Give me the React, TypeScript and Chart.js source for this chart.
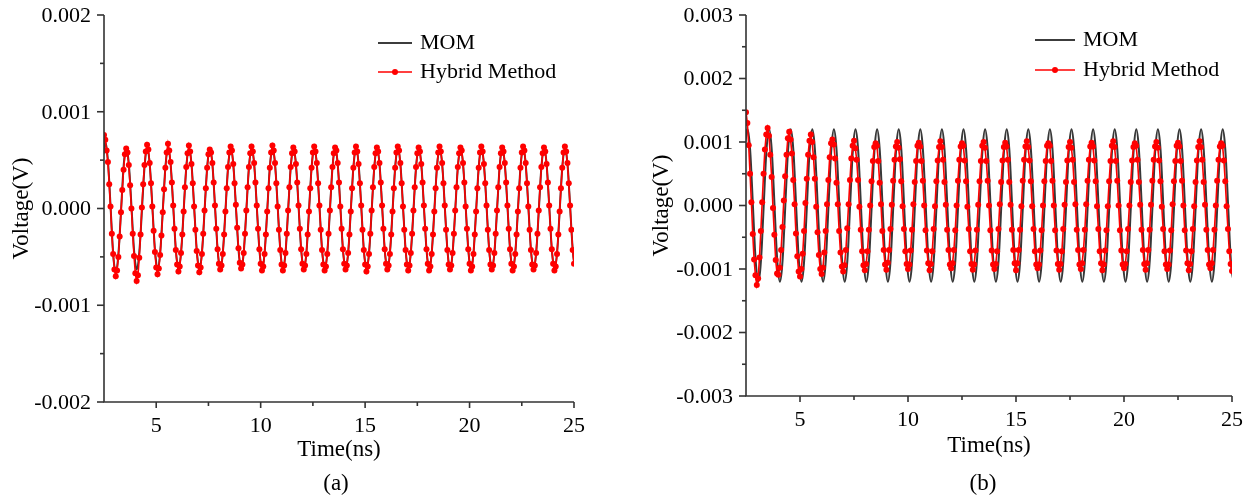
import { useEffect, useRef } from "react";
import { Chart, registerables } from "chart.js";

Chart.register(...registerables);

const FONT = "'Liberation Serif', 'Times New Roman', serif";

// Axes
const X_MIN = 2.5;
const X_MAX = 25;
const X_TICKS = [5, 10, 15, 20, 25];
const Y_TICKS_A = [-0.002, -0.001, 0, 0.001, 0.002];
const Y_TICKS_B = [-0.003, -0.002, -0.001, 0, 0.001, 0.002, 0.003];
const SERIES_NAMES = ["MOM", "Hybrid Method"];
const X_TITLE = "Time(ns)";
const Y_TITLE = "Voltage(V)";

// Sample grids (ns)
const MOM_T0 = 2.47;
const MOM_DT = 0.1;
const HYB_T0 = 2.5;
const HYB_DT = 0.0625;

// Panel (a) values, mV
const MOM_A = [
  0.56, 0.68, 0.54, 0.2, -0.21, -0.55, -0.66, -0.52, -0.2, 0.19,
  0.51, 0.62, 0.5, 0.19, -0.19, -0.51, -0.63, -0.5, -0.19, 0.19,
  0.5, 0.62, 0.5, 0.19, -0.19, -0.5, -0.62, -0.5, -0.19, 0.19,
  0.5, 0.62, 0.5, 0.19, -0.19, -0.5, -0.62, -0.5, -0.19, 0.19,
  0.5, 0.62, 0.5, 0.19, -0.19, -0.5, -0.62, -0.5, -0.19, 0.19,
  0.5, 0.62, 0.5, 0.19, -0.19, -0.5, -0.62, -0.5, -0.19, 0.19,
  0.5, 0.62, 0.5, 0.19, -0.19, -0.5, -0.62, -0.5, -0.19, 0.19,
  0.5, 0.62, 0.5, 0.19, -0.19, -0.5, -0.62, -0.5, -0.19, 0.19,
  0.5, 0.62, 0.5, 0.19, -0.19, -0.5, -0.62, -0.5, -0.19, 0.19,
  0.5, 0.62, 0.5, 0.19, -0.19, -0.5, -0.62, -0.5, -0.19, 0.19,
  0.5, 0.62, 0.5, 0.19, -0.19, -0.5, -0.62, -0.5, -0.19, 0.19,
  0.5, 0.62, 0.5, 0.19, -0.19, -0.5, -0.62, -0.5, -0.19, 0.19,
  0.5, 0.62, 0.5, 0.19, -0.19, -0.5, -0.62, -0.5, -0.19, 0.19,
  0.5, 0.62, 0.5, 0.19, -0.19, -0.5, -0.62, -0.5, -0.19, 0.19,
  0.5, 0.62, 0.5, 0.19, -0.19, -0.5, -0.62, -0.5, -0.19, 0.19,
  0.5, 0.62, 0.5, 0.19, -0.19, -0.5, -0.62, -0.5, -0.19, 0.19,
  0.5, 0.62, 0.5, 0.19, -0.19, -0.5, -0.62, -0.5, -0.19, 0.19,
  0.5, 0.62, 0.5, 0.19, -0.19, -0.5, -0.62, -0.5, -0.19, 0.19,
  0.5, 0.62, 0.5, 0.19, -0.19, -0.5, -0.62, -0.5, -0.19, 0.19,
  0.5, 0.62, 0.5, 0.19, -0.19, -0.5, -0.62, -0.5, -0.19, 0.19,
  0.5, 0.62, 0.5, 0.19, -0.19, -0.5, -0.62, -0.5, -0.19, 0.19,
  0.5, 0.62, 0.5, 0.19, -0.19, -0.5, -0.62, -0.5, -0.19, 0.19,
  0.5, 0.62, 0.5, 0.19, -0.19, -0.5, -0.62,
];

const HYB_A = [
  0.76, 0.71, 0.6, 0.48, 0.25, 0.02, -0.26, -0.47, -0.63, -0.7, -0.64, -0.5, -0.29, -0.04, 0.19, 0.4,
  0.56, 0.62, 0.58, 0.45, 0.24, 0.0, -0.26, -0.49, -0.67, -0.75, -0.69, -0.51, -0.27, 0.01, 0.25, 0.45,
  0.59, 0.66, 0.61, 0.47, 0.26, 0.02, -0.23, -0.45, -0.61, -0.68, -0.62, -0.48, -0.28, -0.04, 0.2, 0.42,
  0.58, 0.67, 0.6, 0.48, 0.27, 0.03, -0.21, -0.43, -0.58, -0.65, -0.6, -0.46, -0.27, -0.03, 0.22, 0.43,
  0.57, 0.65, 0.59, 0.46, 0.26, 0.02, -0.22, -0.44, -0.59, -0.66, -0.61, -0.47, -0.26, -0.02, 0.21, 0.42,
  0.56, 0.61, 0.58, 0.47, 0.27, 0.03, -0.21, -0.42, -0.57, -0.63, -0.59, -0.47, -0.27, -0.03, 0.21, 0.43,
  0.58, 0.64, 0.6, 0.46, 0.26, 0.04, -0.2, -0.41, -0.56, -0.62, -0.58, -0.46, -0.26, -0.02, 0.22, 0.43,
  0.57, 0.64, 0.59, 0.47, 0.27, 0.03, -0.21, -0.42, -0.57, -0.64, -0.6, -0.47, -0.27, -0.03, 0.21, 0.42,
  0.58, 0.65, 0.6, 0.47, 0.26, 0.02, -0.22, -0.43, -0.58, -0.64, -0.59, -0.46, -0.26, -0.02, 0.22, 0.43,
  0.57, 0.63, 0.59, 0.46, 0.27, 0.03, -0.21, -0.42, -0.57, -0.63, -0.59, -0.47, -0.27, -0.03, 0.21, 0.42,
  0.58, 0.64, 0.59, 0.47, 0.26, 0.03, -0.22, -0.43, -0.58, -0.64, -0.6, -0.47, -0.26, -0.02, 0.22, 0.43,
  0.57, 0.63, 0.6, 0.47, 0.27, 0.02, -0.21, -0.42, -0.57, -0.63, -0.59, -0.46, -0.27, -0.03, 0.21, 0.42,
  0.58, 0.64, 0.59, 0.46, 0.26, 0.03, -0.22, -0.43, -0.58, -0.65, -0.6, -0.47, -0.26, -0.02, 0.22, 0.43,
  0.57, 0.63, 0.59, 0.47, 0.27, 0.03, -0.21, -0.42, -0.57, -0.63, -0.59, -0.47, -0.27, -0.03, 0.21, 0.42,
  0.58, 0.64, 0.6, 0.47, 0.26, 0.02, -0.22, -0.43, -0.58, -0.64, -0.59, -0.46, -0.26, -0.02, 0.22, 0.43,
  0.57, 0.63, 0.59, 0.46, 0.27, 0.03, -0.21, -0.42, -0.57, -0.64, -0.6, -0.47, -0.27, -0.03, 0.21, 0.42,
  0.58, 0.64, 0.59, 0.47, 0.26, 0.03, -0.22, -0.43, -0.58, -0.63, -0.59, -0.46, -0.26, -0.02, 0.22, 0.43,
  0.57, 0.63, 0.6, 0.47, 0.27, 0.02, -0.21, -0.42, -0.57, -0.64, -0.6, -0.47, -0.27, -0.03, 0.21, 0.42,
  0.58, 0.64, 0.59, 0.46, 0.26, 0.03, -0.22, -0.43, -0.58, -0.63, -0.59, -0.46, -0.26, -0.02, 0.22, 0.43,
  0.57, 0.63, 0.59, 0.47, 0.27, 0.03, -0.21, -0.42, -0.57, -0.64, -0.6, -0.47, -0.27, -0.03, 0.21, 0.42,
  0.58, 0.64, 0.6, 0.47, 0.26, 0.02, -0.22, -0.43, -0.58, -0.63, -0.59, -0.46, -0.26, -0.02, 0.22, 0.43,
  0.57, 0.63, 0.59, 0.46, 0.27, 0.03, -0.21, -0.42, -0.57, -0.64, -0.6, -0.47, -0.27, -0.03, 0.21, 0.42,
  0.58, 0.64, 0.59, 0.47, 0.26, 0.03, -0.22, -0.43, -0.57,
];

// Panel (b) values, mV
const MOM_B = [
  1.0, 1.2, 0.97, 0.37, -0.37, -0.97, -1.2, -0.97, -0.37, 0.37,
  0.97, 1.2, 0.97, 0.37, -0.37, -0.97, -1.2, -0.97, -0.37, 0.37,
  0.97, 1.2, 0.97, 0.37, -0.37, -0.97, -1.2, -0.97, -0.37, 0.37,
  0.97, 1.2, 0.97, 0.37, -0.37, -0.97, -1.2, -0.97, -0.37, 0.37,
  0.97, 1.2, 0.97, 0.37, -0.37, -0.97, -1.2, -0.97, -0.37, 0.37,
  0.97, 1.2, 0.97, 0.37, -0.37, -0.97, -1.2, -0.97, -0.37, 0.37,
  0.97, 1.2, 0.97, 0.37, -0.37, -0.97, -1.2, -0.97, -0.37, 0.37,
  0.97, 1.2, 0.97, 0.37, -0.37, -0.97, -1.2, -0.97, -0.37, 0.37,
  0.97, 1.2, 0.97, 0.37, -0.37, -0.97, -1.2, -0.97, -0.37, 0.37,
  0.97, 1.2, 0.97, 0.37, -0.37, -0.97, -1.2, -0.97, -0.37, 0.37,
  0.97, 1.2, 0.97, 0.37, -0.37, -0.97, -1.2, -0.97, -0.37, 0.37,
  0.97, 1.2, 0.97, 0.37, -0.37, -0.97, -1.2, -0.97, -0.37, 0.37,
  0.97, 1.2, 0.97, 0.37, -0.37, -0.97, -1.2, -0.97, -0.37, 0.37,
  0.97, 1.2, 0.97, 0.37, -0.37, -0.97, -1.2, -0.97, -0.37, 0.37,
  0.97, 1.2, 0.97, 0.37, -0.37, -0.97, -1.2, -0.97, -0.37, 0.37,
  0.97, 1.2, 0.97, 0.37, -0.37, -0.97, -1.2, -0.97, -0.37, 0.37,
  0.97, 1.2, 0.97, 0.37, -0.37, -0.97, -1.2, -0.97, -0.37, 0.37,
  0.97, 1.2, 0.97, 0.37, -0.37, -0.97, -1.2, -0.97, -0.37, 0.37,
  0.97, 1.2, 0.97, 0.37, -0.37, -0.97, -1.2, -0.97, -0.37, 0.37,
  0.97, 1.2, 0.97, 0.37, -0.37, -0.97, -1.2, -0.97, -0.37, 0.37,
  0.97, 1.2, 0.97, 0.37, -0.37, -0.97, -1.2, -0.97, -0.37, 0.37,
  0.97, 1.2, 0.97, 0.37, -0.37, -0.97, -1.2, -0.97, -0.37, 0.37,
  0.97, 1.2, 0.97, 0.37, -0.37, -0.97, -1.2,
];

const HYB_B = [
  1.47, 1.3, 0.95, 0.5, 0.05, -0.45, -0.85, -1.1, -1.25, -1.15, -0.82, -0.4, 0.05, 0.5, 0.88, 1.12,
  1.22, 1.1, 0.8, 0.45, -0.04, -0.46, -0.86, -1.07, -1.09, -0.98, -0.7, -0.34, 0.08, 0.46, 0.8, 1.06,
  1.16, 1.04, 0.82, 0.4, 0.02, -0.44, -0.8, -1.04, -1.12, -1.0, -0.76, -0.4, 0.04, 0.42, 0.8, 1.02,
  1.12, 1.0, 0.76, 0.42, -0.02, -0.42, -0.78, -1.0, -1.08, -0.98, -0.74, -0.4, 0.02, 0.4, 0.76, 0.98,
  1.04, 0.96, 0.74, 0.36, 0.02, -0.4, -0.74, -0.96, -1.04, -0.94, -0.7, -0.36, 0.02, 0.4, 0.74, 0.94,
  1.02, 0.9, 0.72, 0.4, -0.02, -0.38, -0.72, -0.94, -1.02, -0.92, -0.72, -0.38, 0.0, 0.38, 0.7, 0.92,
  0.98, 0.94, 0.7, 0.36, 0.02, -0.4, -0.7, -0.93, -1.01, -0.9, -0.7, -0.37, 0.01, 0.39, 0.72, 0.93,
  1.0, 0.91, 0.73, 0.38, -0.01, -0.37, -0.72, -0.92, -1.0, -0.93, -0.71, -0.38, 0.02, 0.37, 0.7, 0.94,
  0.99, 0.93, 0.7, 0.39, 0.0, -0.39, -0.71, -0.91, -1.02, -0.92, -0.72, -0.37, -0.01, 0.38, 0.71, 0.92,
  1.01, 0.92, 0.72, 0.37, 0.01, -0.38, -0.7, -0.93, -0.99, -0.91, -0.7, -0.39, 0.0, 0.39, 0.72, 0.93,
  0.98, 0.94, 0.71, 0.38, -0.02, -0.37, -0.72, -0.92, -1.01, -0.93, -0.71, -0.38, 0.01, 0.38, 0.7, 0.94,
  1.0, 0.91, 0.7, 0.39, 0.0, -0.39, -0.71, -0.93, -1.0, -0.92, -0.72, -0.37, 0.02, 0.37, 0.71, 0.92,
  0.99, 0.93, 0.72, 0.37, 0.01, -0.38, -0.7, -0.91, -1.02, -0.91, -0.7, -0.38, -0.01, 0.39, 0.72, 0.93,
  1.01, 0.92, 0.71, 0.38, -0.01, -0.37, -0.72, -0.93, -0.99, -0.93, -0.71, -0.39, 0.0, 0.38, 0.7, 0.94,
  0.98, 0.94, 0.7, 0.39, 0.0, -0.39, -0.71, -0.92, -1.01, -0.92, -0.72, -0.37, 0.01, 0.37, 0.71, 0.92,
  1.0, 0.91, 0.72, 0.37, 0.02, -0.38, -0.7, -0.93, -1.0, -0.91, -0.7, -0.38, 0.02, 0.39, 0.72, 0.93,
  0.99, 0.93, 0.71, 0.38, -0.01, -0.37, -0.72, -0.91, -1.02, -0.93, -0.71, -0.39, -0.01, 0.38, 0.7, 0.94,
  1.01, 0.92, 0.7, 0.39, 0.0, -0.39, -0.71, -0.93, -0.99, -0.92, -0.72, -0.37, 0.0, 0.37, 0.71, 0.92,
  0.98, 0.94, 0.72, 0.37, 0.01, -0.38, -0.7, -0.92, -1.01, -0.91, -0.7, -0.38, 0.01, 0.39, 0.72, 0.93,
  1.0, 0.91, 0.71, 0.38, -0.02, -0.37, -0.72, -0.93, -1.0, -0.93, -0.71, -0.39, 0.02, 0.38, 0.7, 0.94,
  0.99, 0.93, 0.7, 0.39, 0.0, -0.39, -0.71, -0.91, -1.02, -0.92, -0.72, -0.37, -0.01, 0.37, 0.71, 0.92,
  1.01, 0.92, 0.72, 0.37, 0.01, -0.38, -0.7, -0.93, -0.99, -0.91, -0.7, -0.38, 0.0, 0.39, 0.72, 0.93,
  0.98, 0.94, 0.71, 0.38, -0.01, -0.37, -0.72, -0.92, -1.03,
];

const toPoints = (vals: number[], t0: number, dt: number) =>
  vals.map((v, i) => ({ x: +(t0 + i * dt).toFixed(4), y: v / 1000 }));

const decorPlugin = {
  id: "decor",
  afterDraw(chart: any, _args: any, opts: any) {
    const { ctx, chartArea: ca, scales } = chart;
    const xs = scales.x;
    const ys = scales.y;
    ctx.save();
    ctx.strokeStyle = "#333";
    ctx.lineWidth = 1.6;
    ctx.beginPath();
    ctx.moveTo(ca.left, ca.top);
    ctx.lineTo(ca.left, ca.bottom);
    ctx.lineTo(ca.right, ca.bottom);
    ctx.stroke();
    // y ticks
    const yStep = 0.0005;
    const nY = Math.round((ys.max - ys.min) / yStep);
    for (let i = 0; i <= nY; i++) {
      const v = ys.min + i * yStep;
      const py = ys.getPixelForValue(v);
      const major = i % 2 === 0;
      ctx.beginPath();
      ctx.moveTo(ca.left, py);
      ctx.lineTo(ca.left - (major ? 7 : 4), py);
      ctx.stroke();
    }
    // y tick labels
    ctx.font = `22px ${FONT}`;
    ctx.fillStyle = "#000";
    ctx.textAlign = "right";
    ctx.textBaseline = "middle";
    for (const v of opts.yTicks as number[]) {
      const py = ys.getPixelForValue(v);
      ctx.fillText(v.toFixed(3), ca.left - 13, py + 1);
    }
    // x ticks
    const xStep = 2.5;
    const nX = Math.round((xs.max - xs.min) / xStep);
    for (let i = 1; i <= nX; i++) {
      const v = xs.min + i * xStep;
      const px = xs.getPixelForValue(v);
      const major = i % 2 === 1;
      ctx.beginPath();
      ctx.moveTo(px, ca.bottom);
      ctx.lineTo(px, ca.bottom + (major ? 6 : 4));
      ctx.stroke();
    }
    // legend
    const lx = ca.left + opts.legendDx;
    const lw = opts.legendW;
    ctx.font = `22px ${FONT}`;
    ctx.fillStyle = "#000";
    ctx.textBaseline = "middle";
    ctx.textAlign = "left";
    ctx.strokeStyle = "#3c3c3c";
    ctx.lineWidth = 1.8;
    ctx.beginPath();
    ctx.moveTo(lx, opts.legendY1);
    ctx.lineTo(lx + lw, opts.legendY1);
    ctx.stroke();
    ctx.fillText(SERIES_NAMES[0], lx + lw + 8, opts.legendY1);
    ctx.strokeStyle = "#ff0000";
    ctx.lineWidth = 1.6;
    ctx.beginPath();
    ctx.moveTo(lx, opts.legendY2);
    ctx.lineTo(lx + lw, opts.legendY2);
    ctx.stroke();
    ctx.fillStyle = "#ff0000";
    ctx.beginPath();
    ctx.arc(lx + lw / 2, opts.legendY2, 3, 0, Math.PI * 2);
    ctx.fill();
    ctx.fillStyle = "#000";
    ctx.fillText(SERIES_NAMES[1], lx + lw + 8, opts.legendY2);
    // caption
    ctx.font = `23px ${FONT}`;
    ctx.textAlign = "center";
    ctx.fillText(opts.caption, opts.captionX, opts.captionY);
    ctx.restore();
  },
};

type PanelCfg = {
  mom: number[];
  hyb: number[];
  yTicks: number[];
  yWidth: number;
  xHeight: number;
  padding: { left: number; top: number; right: number; bottom: number };
  decor: any;
};

function Panel({ cfg, left }: { cfg: PanelCfg; left: number }) {
  const ref = useRef<HTMLCanvasElement | null>(null);
  useEffect(() => {
    if (!ref.current) return;
    const yMin = cfg.yTicks[0];
    const yMax = cfg.yTicks[cfg.yTicks.length - 1];
    const chart = new Chart(ref.current, {
      type: "line",
      data: {
        datasets: [
          {
            label: SERIES_NAMES[0],
            data: toPoints(cfg.mom, MOM_T0, MOM_DT),
            borderColor: "#383838",
            borderWidth: 2,
            pointRadius: 0,
            tension: 0.4,
            order: 2,
          },
          {
            label: SERIES_NAMES[1],
            data: toPoints(cfg.hyb, HYB_T0, HYB_DT),
            borderColor: "#ff0000",
            borderWidth: 1.6,
            pointRadius: 3,
            pointBackgroundColor: "#ff0000",
            pointBorderWidth: 0,
            tension: 0,
            order: 1,
          },
        ],
      },
      options: {
        animation: false,
        responsive: false,
        devicePixelRatio: 1,
        layout: { padding: cfg.padding },
        plugins: {
          legend: { display: false },
          tooltip: { enabled: false },
          decor: { ...cfg.decor, yTicks: cfg.yTicks },
        } as any,
        scales: {
          x: {
            type: "linear",
            min: X_MIN,
            max: X_MAX,
            afterBuildTicks: (s: any) => {
              s.ticks = X_TICKS.map((v) => ({ value: v }));
            },
            afterFit: (s: any) => {
              s.height = cfg.xHeight;
            },
            grid: { display: false, drawTicks: false },
            border: { display: false },
            ticks: {
              color: "#000",
              font: { family: FONT, size: 22 },
              padding: 11,
              maxRotation: 0,
              autoSkip: false,
            },
            title: {
              display: true,
              text: X_TITLE,
              color: "#000",
              font: { family: FONT, size: 23 },
              padding: { top: 0, bottom: 0 },
            },
          },
          y: {
            type: "linear",
            min: yMin,
            max: yMax,
            afterBuildTicks: (s: any) => {
              s.ticks = cfg.yTicks.map((v) => ({ value: v }));
            },
            afterFit: (s: any) => {
              s.width = cfg.yWidth;
            },
            grid: { display: false, drawTicks: false },
            border: { display: false },
            ticks: { display: false },
            title: {
              display: true,
              text: Y_TITLE,
              color: "#000",
              font: { family: FONT, size: 23 },
              padding: { top: 8, bottom: 0 },
            },
          },
        },
      },
      plugins: [decorPlugin],
    });
    return () => chart.destroy();
  }, [cfg]);
  return (
    <canvas
      ref={ref}
      width={620}
      height={498}
      style={{ position: "absolute", left, top: 0, width: 620, height: 498 }}
    />
  );
}

const PANEL_A: PanelCfg = {
  mom: MOM_A,
  hyb: HYB_A,
  yTicks: Y_TICKS_A,
  yWidth: 104,
  xHeight: 62,
  padding: { left: 0, top: 15, right: 46, bottom: 34 },
  decor: { legendDx: 274, legendW: 34, legendY1: 43, legendY2: 72, caption: "(a)", captionX: 336, captionY: 484 },
};

const PANEL_B: PanelCfg = {
  mom: MOM_B,
  hyb: HYB_B,
  yTicks: Y_TICKS_B,
  yWidth: 106,
  xHeight: 64,
  padding: { left: 0, top: 15, right: 28, bottom: 38 },
  decor: { legendDx: 289, legendW: 40, legendY1: 40, legendY2: 70, caption: "(b)", captionX: 343, captionY: 484 },
};

export default function App() {
  return (
    <div style={{ position: "absolute", left: 0, top: 0, width: 1260, height: 498, background: "#fff" }}>
      <Panel cfg={PANEL_A} left={0} />
      <Panel cfg={PANEL_B} left={640} />
    </div>
  );
}
